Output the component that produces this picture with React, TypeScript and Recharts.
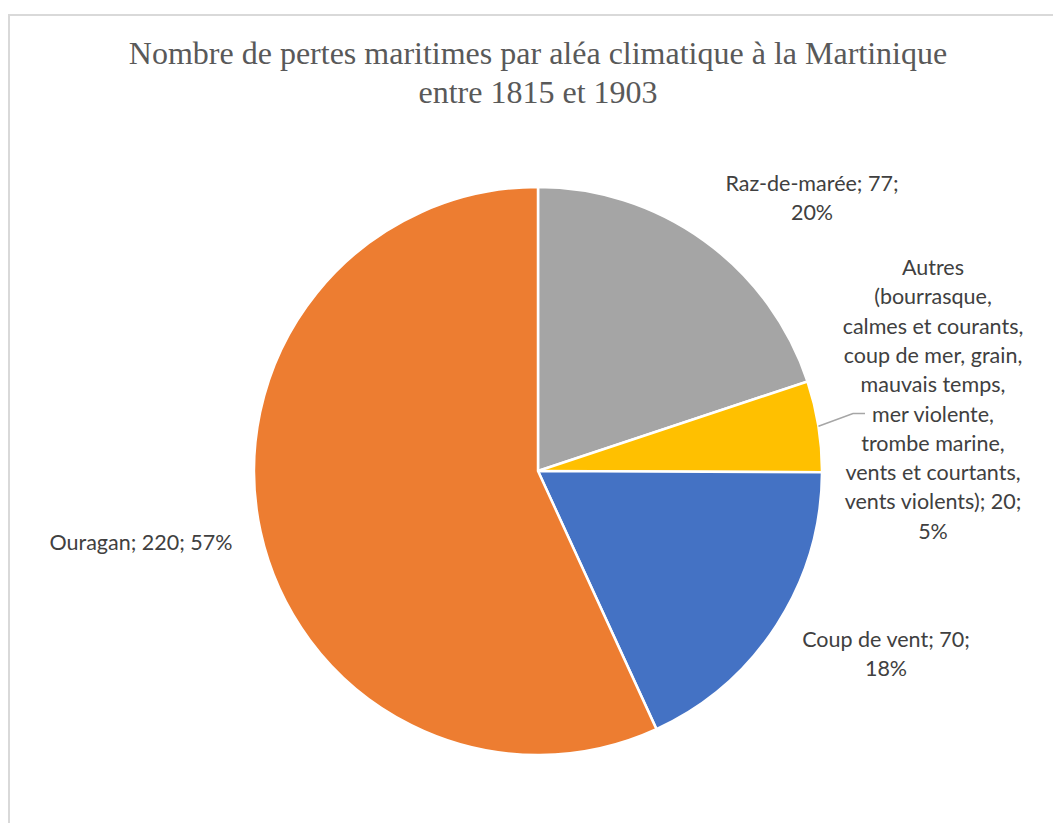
import React from 'react';
import { PieChart, Pie, Cell } from 'recharts';

const categories = ['Raz-de-marée', 'Autres', 'Coup de vent', 'Ouragan'];
const counts = [77, 20, 70, 220];
const colors = ['#A5A5A5', '#FFC000', '#4472C4', '#ED7D31'];

const labelLines: string[][] = [
  ['Raz-de-marée; 77;', '20%'],
  [
    'Autres',
    '(bourrasque,',
    'calmes et courants,',
    'coup de mer, grain,',
    'mauvais temps,',
    'mer violente,',
    'trombe marine,',
    'vents et courtants,',
    'vents violents); 20;',
    '5%',
  ],
  ['Coup de vent; 70;', '18%'],
  ['Ouragan; 220; 57%'],
];

// label anchor offsets from the pie centre (x centre, first baseline)
const labelOffsets = [
  [274, -280],
  [395, -196],
  [348, 176],
  [-397, 79],
];

const LINE_H = 29.3;
const PIE_CX = 538;
const PIE_CY = 471;
const RADIUS = 284;

const data = categories.map((name, i) => ({ name, value: counts[i] }));

const renderLabel = (props: any) => {
  const { cx, cy, index } = props;
  const [dx, dy] = labelOffsets[index];
  return (
    <text
      key={`lbl-${index}`}
      x={cx + dx}
      y={cy + dy}
      textAnchor="middle"
      fill="#404040"
      style={{ fontFamily: 'Lato, "Open Sans", sans-serif', fontSize: 21.5 }}
    >
      {labelLines[index].map((line, j) => (
        <tspan key={j} x={cx + dx} y={cy + dy + j * LINE_H}>
          {line}
        </tspan>
      ))}
    </text>
  );
};

const renderLabelLine = (props: any) => {
  const { cx, cy, midAngle, outerRadius, index } = props;
  if (index !== 1) return <g key={`ll-${index}`} />;
  const rad = (Math.PI / 180) * midAngle;
  const sx = cx + outerRadius * Math.cos(rad);
  const sy = cy - outerRadius * Math.sin(rad);
  const bx = cx + labelOffsets[1][0] - 80;
  const by = cy + labelOffsets[1][1] + 5 * LINE_H - 8;
  return (
    <polyline
      key={`ll-${index}`}
      points={`${sx},${sy} ${bx},${by} ${bx + 12},${by}`}
      fill="none"
      stroke="#A6A6A6"
      strokeWidth={1.5}
    />
  );
};

export default function App() {
  return (
    <div
      style={{
        position: 'absolute',
        left: 0,
        top: 0,
        width: 1053,
        height: 823,
        overflow: 'hidden',
        background: '#fff',
      }}
    >
      <div
        style={{
          position: 'absolute',
          left: 8,
          top: 14,
          width: 1100,
          height: 900,
          borderTop: '2px solid #D9D9D9',
          borderLeft: '2px solid #D9D9D9',
        }}
      />
      <div
        style={{
          position: 'absolute',
          left: 0,
          top: 34,
          width: 1076,
          textAlign: 'center',
          fontFamily: '"Liberation Serif", "Times New Roman", serif',
          fontSize: 32,
          lineHeight: '39px',
          color: '#595959',
        }}
      >
        Nombre de pertes maritimes par aléa climatique à la Martinique
        <br />
        entre 1815 et 1903
      </div>
      <div style={{ position: 'absolute', left: 0, top: 0 }}>
        <PieChart width={1053} height={823} margin={{ top: 0, right: 0, bottom: 0, left: 0 }}>
          <Pie
            data={data}
            dataKey="value"
            nameKey="name"
            cx={PIE_CX}
            cy={PIE_CY}
            outerRadius={RADIUS}
            startAngle={90}
            endAngle={-270}
            stroke="#FFFFFF"
            strokeWidth={2.5}
            label={renderLabel}
            labelLine={renderLabelLine}
            isAnimationActive={false}
          >
            {data.map((d, i) => (
              <Cell key={d.name} fill={colors[i]} />
            ))}
          </Pie>
        </PieChart>
      </div>
    </div>
  );
}
